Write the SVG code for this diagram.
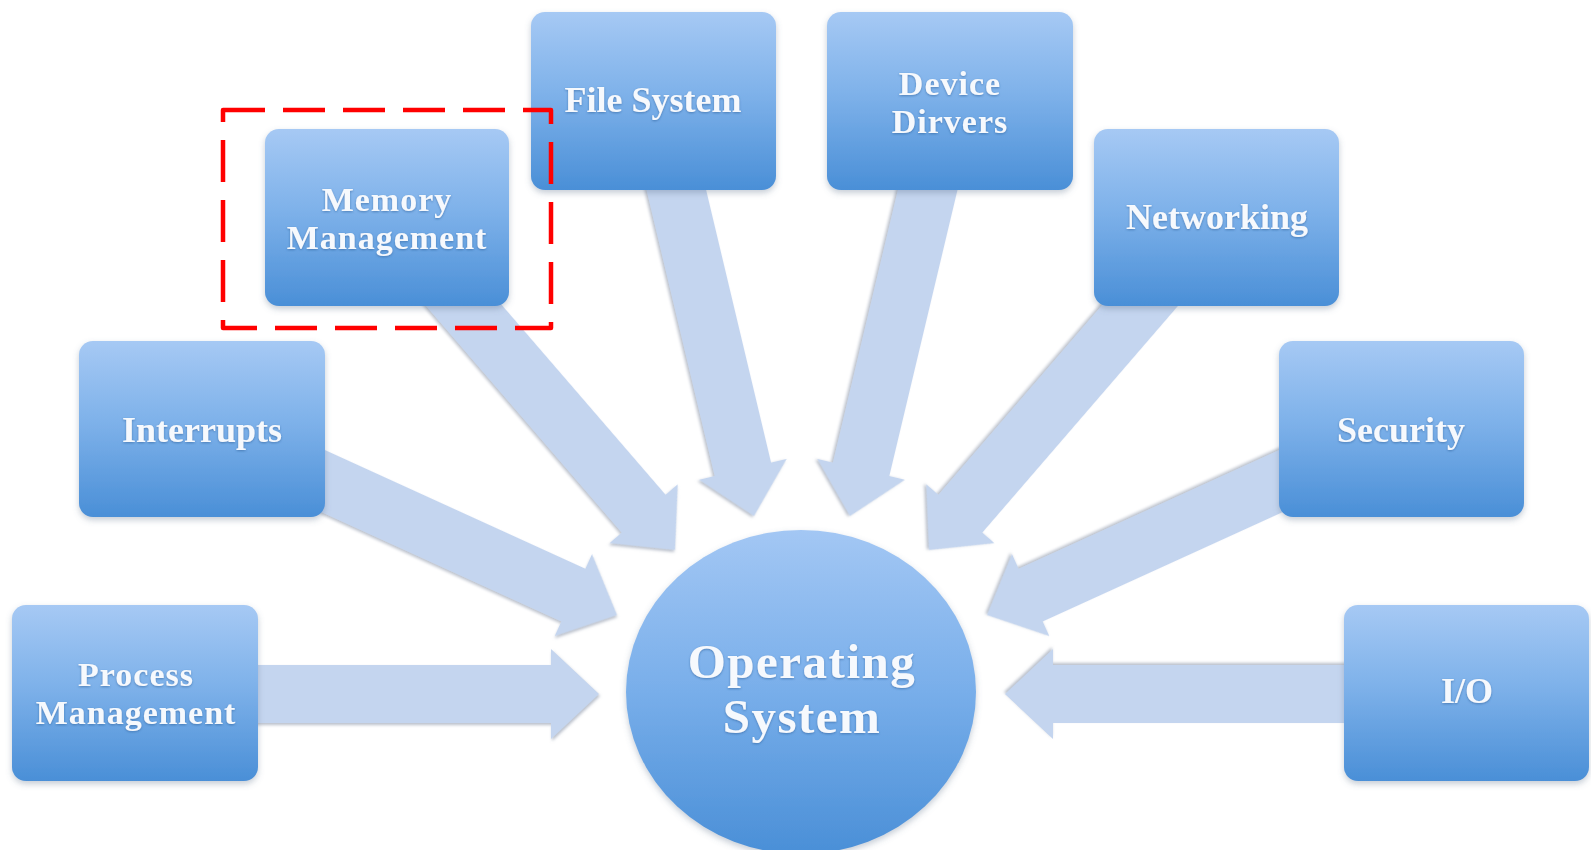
<svg xmlns="http://www.w3.org/2000/svg" width="1591" height="850" viewBox="0 0 1591 850">
  <defs>
    <linearGradient id="boxFill" x1="0" y1="0" x2="0" y2="1">
      <stop offset="0" stop-color="#a6c9f4"/>
      <stop offset="0.45" stop-color="#7fb2ea"/>
      <stop offset="1" stop-color="#4a8fd7"/>
    </linearGradient>
    <linearGradient id="hubFill" x1="0" y1="0" x2="0" y2="1">
      <stop offset="0" stop-color="#a3c7f4"/>
      <stop offset="0.5" stop-color="#78aeea"/>
      <stop offset="1" stop-color="#4a8fd7"/>
    </linearGradient>
    <filter id="boxShadow" x="-10%" y="-10%" width="120%" height="125%">
      <feDropShadow dx="0" dy="3" stdDeviation="3" flood-color="#5a6e88" flood-opacity="0.35"/>
    </filter>
    <filter id="arrowShadow" x="-10%" y="-20%" width="120%" height="140%">
      <feDropShadow dx="1" dy="2" stdDeviation="1.5" flood-color="#7f8aa0" flood-opacity="0.55"/>
    </filter>
    <filter id="textShadow" x="-5%" y="-20%" width="110%" height="140%">
      <feDropShadow dx="0" dy="1" stdDeviation="0.8" flood-color="#2d5f96" flood-opacity="0.6"/>
    </filter>
    <style>
      .arr { fill: #c4d5ef; filter: url(#arrowShadow); }
      .box { fill: url(#boxFill); filter: url(#boxShadow); }
      .lbl { font-family: "Liberation Serif", "Times New Roman", serif; font-weight: bold; font-size: 36px; fill: #f6f9fd; text-anchor: middle; filter: url(#textShadow); }
      .two { font-size: 34px; letter-spacing: 1px; }
      .hub { font-size: 49px; letter-spacing: 1.5px; }
    </style>
  </defs>

  <rect width="1591" height="850" fill="#ffffff"/>

  <!-- block arrows converging on the hub -->
  <g id="connectors">
    <path class="arr" d="M-359,-29 H-48 V-45 L0,0 L-48,45 V29 H-359 Z" transform="translate(599,694)"/>
    <path class="arr" d="M-384,-29 H-48 V-45 L0,0 L-48,45 V29 H-384 Z" transform="translate(617,615) rotate(24.5)"/>
    <path class="arr" d="M-377,-29 H-48 V-45 L0,0 L-48,45 V29 H-377 Z" transform="translate(675,550) rotate(49.2)"/>
    <path class="arr" d="M-389,-29 H-48 V-45 L0,0 L-48,45 V29 H-389 Z" transform="translate(754,516) rotate(76.6)"/>
    <path class="arr" d="M-389,-29 H-48 V-45 L0,0 L-48,45 V29 H-389 Z" transform="translate(850,516) rotate(103.4)"/>
    <path class="arr" d="M-377,-29 H-48 V-45 L0,0 L-48,45 V29 H-377 Z" transform="translate(929,550) rotate(130.8)"/>
    <path class="arr" d="M-384,-29 H-48 V-45 L0,0 L-48,45 V29 H-384 Z" transform="translate(987,615) rotate(155.5)"/>
    <path class="arr" d="M-359,-29 H-48 V-45 L0,0 L-48,45 V29 H-359 Z" transform="translate(1005,694) rotate(180)"/>
  </g>

  <g id="file-system">
    <rect class="box" x="531" y="12" width="245" height="178" rx="14"/>
    <text class="lbl" x="653" y="112">File System</text>
  </g>

  <g id="device-drivers">
    <rect class="box" x="827" y="12" width="246" height="178" rx="14"/>
    <text class="lbl two" x="950" y="95">Device</text>
    <text class="lbl two" x="950" y="133">Dirvers</text>
  </g>

  <g id="memory-management">
    <rect class="box" x="265" y="129" width="244" height="177" rx="14"/>
    <text class="lbl two" x="387" y="211">Memory</text>
    <text class="lbl two" x="387" y="249">Management</text>
  </g>

  <g id="networking">
    <rect class="box" x="1094" y="129" width="245" height="177" rx="14"/>
    <text class="lbl" x="1217" y="229">Networking</text>
  </g>

  <g id="interrupts">
    <rect class="box" x="79" y="341" width="246" height="176" rx="14"/>
    <text class="lbl" x="202" y="442">Interrupts</text>
  </g>

  <g id="security">
    <rect class="box" x="1279" y="341" width="245" height="176" rx="14"/>
    <text class="lbl" x="1401" y="442">Security</text>
  </g>

  <g id="process-management">
    <rect class="box" x="12" y="605" width="246" height="176" rx="14"/>
    <text class="lbl two" x="136" y="686">Process</text>
    <text class="lbl two" x="136" y="724">Management</text>
  </g>

  <g id="io">
    <rect class="box" x="1344" y="605" width="245" height="176" rx="14"/>
    <text class="lbl" x="1467" y="703">I/O</text>
  </g>

  <g id="operating-system">
    <ellipse cx="801" cy="692" rx="175" ry="162" fill="url(#hubFill)" filter="url(#boxShadow)"/>
    <text class="lbl hub" x="802" y="678">Operating</text>
    <text class="lbl hub" x="802" y="733">System</text>
  </g>

  <!-- highlight frame around the memory management node -->
  <rect id="highlight" x="223" y="110" width="328" height="218" fill="none" stroke="#ff0000" stroke-width="4.5" stroke-dasharray="42 18" stroke-linejoin="round"/>
</svg>
